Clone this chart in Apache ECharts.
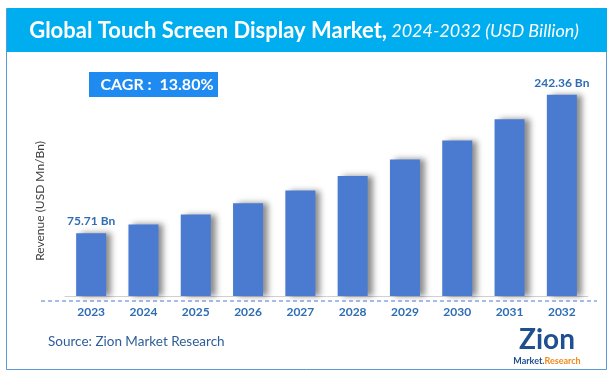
<!DOCTYPE html>
<html><head><meta charset="utf-8">
<script src="https://cdn.jsdelivr.net/npm/echarts@6/dist/echarts.min.js"></script>
<style>html,body{margin:0;padding:0;background:#fff}#c{width:613px;height:379px}</style>
</head><body><div id="c"></div>
<script>
var years = ['2023','2024','2025','2026','2027','2028','2029','2030','2031','2032'];
var revenue = [75.71, 86.2, 98.1, 111.6, 127.0, 144.5, 164.5, 187.2, 213.0, 242.36];
var labelText = {0: '75.71 Bn', 9: '242.36 Bn'};
var titleMain = 'Global Touch Screen Display Market,';
var titleSub = ' 2024-2032 (USD Billion)';
var cagrText = 'CAGR :  13.80%';
var sourceText = 'Source: Zion Market Research';
var yName = 'Revenue (USD Mn/Bn)';

var FONT = 'Lato, "Open Sans", sans-serif';
var chart = echarts.init(document.getElementById('c'), null, {renderer: 'canvas'});
chart.setOption({
  animation: false,
  grid: {left: 65, right: 25, top: 47, bottom: 83},
  xAxis: {
    type: 'category', data: years,
    axisLine: {show: true, lineStyle: {color: '#d0d0d0', width: 1}},
    axisTick: {show: false},
    axisLabel: {color: '#2E6DB4', fontWeight: 'bold', fontSize: 12, fontFamily: FONT, margin: 10}
  },
  yAxis: {
    type: 'value', min: 0, max: 300, show: true,
    axisLine: {show: false}, axisTick: {show: false}, axisLabel: {show: false},
    splitLine: {show: false}
  },
  series: [{
    type: 'bar', data: revenue, barWidth: 30,
    itemStyle: {color: '#4A7BD1', shadowColor: 'rgba(0,0,0,0.45)', shadowBlur: 6, shadowOffsetX: 5, shadowOffsetY: 0},
    label: {
      show: true, position: 'top', distance: 6,
      color: '#2E6DB4', fontWeight: 'bold', fontSize: 12, fontFamily: FONT,
      formatter: function(p){ return labelText[p.dataIndex] || ''; }
    }
  }],
  graphic: [
    {type: 'rect', shape: {x: 6.5, y: 8.5, width: 600, height: 361}, style: {fill: 'none', stroke: '#5B9BD5', lineWidth: 1}, z: 0},
    {type: 'rect', shape: {x: 7, y: 8, width: 600, height: 44}, style: {fill: '#00AEEF'}, z: 1},
    {type: 'text', x: 304, y: 31, z: 2, style: {
      text: '{a|' + titleMain + '}{b|' + titleSub + '}', align: 'center', verticalAlign: 'middle',
      rich: {
        a: {fill: '#fff', fontWeight: 'bold', fontSize: 22, fontFamily: FONT},
        b: {fill: '#fff', fontStyle: 'italic', fontSize: 18, fontFamily: FONT}
      }
    }},
    {type: 'rect', shape: {x: 89, y: 72, width: 129, height: 25}, style: {fill: '#1F8BF0'}, z: 1},
    {type: 'text', x: 157, y: 85, z: 2, style: {text: cagrText, align: 'center', verticalAlign: 'middle', fill: '#fff', fontWeight: 'bold', fontSize: 16, fontFamily: FONT}},
    {type: 'text', x: 40, y: 201, rotation: Math.PI / 2, z: 2, style: {text: yName, align: 'center', verticalAlign: 'middle', fill: '#404040', fontSize: 12, fontFamily: FONT}},
    {type: 'line', shape: {x1: 41, y1: 301, x2: 597, y2: 301}, style: {stroke: '#4A7BD1', lineWidth: 1, lineDash: [4, 3]}, z: 1},
    {type: 'text', x: 48, y: 342, style: {text: sourceText, verticalAlign: 'middle', fill: '#2E5E99', fontSize: 13.5, fontFamily: FONT}},
    {type: 'text', x: 547, y: 340, style: {text: 'Zion', align: 'center', verticalAlign: 'middle', fill: '#1E4F91', fontWeight: 'bold', fontSize: 28, fontFamily: FONT}},
    {type: 'text', x: 547, y: 361, style: {text: '{m|Market.}{r|Research}', align: 'center', verticalAlign: 'middle',
      rich: {m: {fill: '#1E4F91', fontWeight: 'bold', fontSize: 9, fontFamily: FONT}, r: {fill: '#F08A1C', fontWeight: 'bold', fontSize: 9, fontFamily: FONT}}}}
  ]
});
</script></body></html>
